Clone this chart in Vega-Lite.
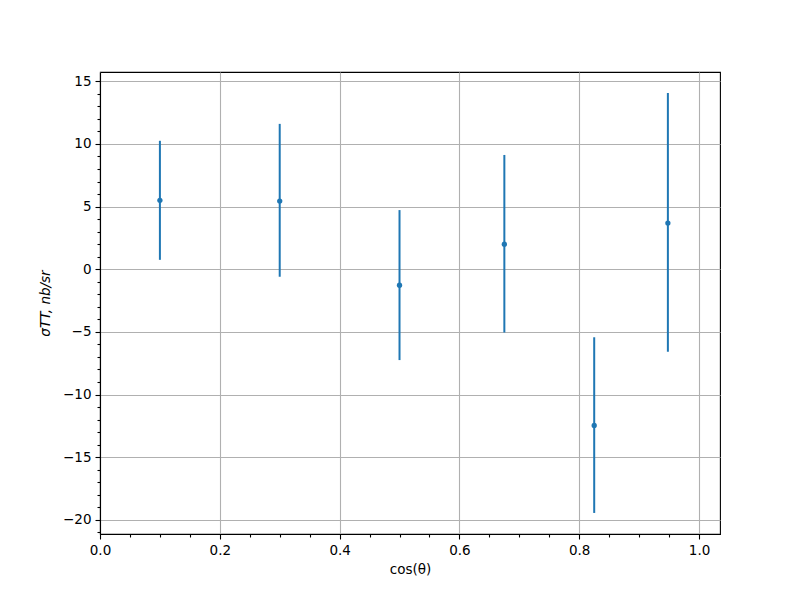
{
  "$schema": "https://vega.github.io/schema/vega-lite/v6.json",
  "width": 620,
  "height": 462,
  "autosize": {"type": "none"},
  "padding": {"left": 100, "top": 72, "right": 80, "bottom": 66},
  "background": "white",
  "config": {
    "view": {"stroke": "black", "strokeWidth": 1.1},
    "axis": {
      "labelFont": "DejaVu Sans",
      "labelFontSize": 13.5,
      "labelColor": "black",
      "labelFlush": false,
      "titleFont": "DejaVu Sans",
      "titleFontSize": 13.5,
      "titleFontWeight": "normal",
      "titleColor": "black",
      "tickColor": "black",
      "tickWidth": 1.1,
      "domainColor": "black",
      "domainWidth": 1.1,
      "gridColor": "#b0b0b0",
      "gridWidth": 1.1,
      "gridOpacity": 1
    }
  },
  "data": {
    "values": [
      {"x": 0.1, "y": 5.5, "ylo": 0.75, "yhi": 10.25},
      {"x": 0.3, "y": 5.44, "ylo": -0.6, "yhi": 11.6},
      {"x": 0.5, "y": -1.28, "ylo": -7.25, "yhi": 4.72},
      {"x": 0.675, "y": 2.0, "ylo": -5.05, "yhi": 9.12},
      {"x": 0.825, "y": -12.47, "ylo": -19.45, "yhi": -5.43},
      {"x": 0.948, "y": 3.68, "ylo": -6.58, "yhi": 14.06}
    ]
  },
  "layer": [
    {
      "mark": {"type": "rule", "color": "#1f77b4", "strokeWidth": 2},
      "encoding": {
        "x": {
          "field": "x", "type": "quantitative",
          "scale": {"domain": [0, 1.035], "nice": false, "zero": false},
          "axis": {
            "orient": "bottom",
            "values": [0, 0.2, 0.4, 0.6, 0.8, 1.0],
            "format": ".1f",
            "grid": true,
            "tickSize": 5,
            "labelPadding": 4,
            "title": "cos(θ)",
            "titlePadding": 6
          }
        },
        "y": {
          "field": "ylo", "type": "quantitative",
          "scale": {"domain": [-21.13, 15.74], "nice": false, "zero": false},
          "axis": {
            "orient": "left",
            "values": [-20, -15, -10, -5, 0, 5, 10, 15],
            "format": "d",
            "grid": true,
            "tickSize": 5,
            "labelPadding": 4,
            "title": "σTT, nb/sr",
            "titleFontStyle": "italic",
            "titlePadding": 10
          }
        },
        "y2": {"field": "yhi"}
      }
    },
    {
      "mark": {"type": "point", "filled": true, "color": "#1f77b4", "size": 28, "opacity": 1},
      "encoding": {
        "x": {
          "field": "x", "type": "quantitative",
          "axis": {
            "orient": "bottom",
            "values": [0.05, 0.1, 0.15, 0.25, 0.3, 0.35, 0.45, 0.5, 0.55, 0.65, 0.7, 0.75, 0.85, 0.9, 0.95],
            "labels": false,
            "grid": false,
            "domain": false,
            "tickSize": 3,
            "title": null
          }
        },
        "y": {
          "field": "y", "type": "quantitative",
          "axis": {
            "orient": "left",
            "values": [-21, -19, -18, -17, -16, -14, -13, -12, -11, -9, -8, -7, -6, -4, -3, -2, -1, 1, 2, 3, 4, 6, 7, 8, 9, 11, 12, 13, 14],
            "labels": false,
            "grid": false,
            "domain": false,
            "tickSize": 3,
            "title": null
          }
        }
      }
    }
  ],
  "resolve": {"axis": {"x": "independent", "y": "independent"}}
}
